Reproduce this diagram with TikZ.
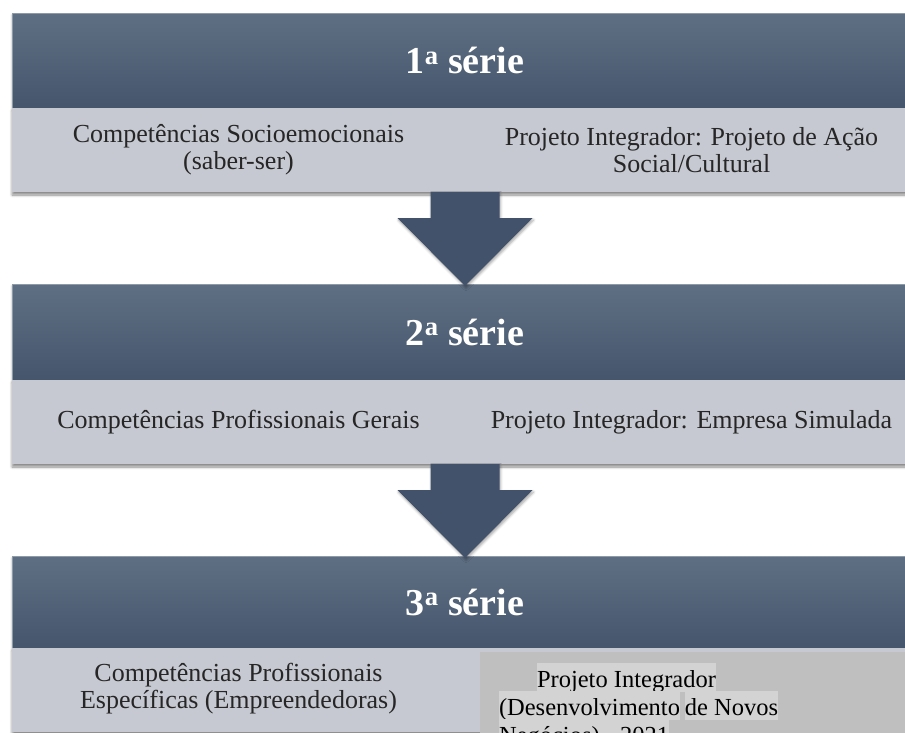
\documentclass[tikz,border=0pt]{standalone}
\usepackage{fontspec}
\setmainfont{Liberation Serif}
\usetikzlibrary{positioning,calc,shadows.blur}
\definecolor{hdtop}{HTML}{5F6F83}
\definecolor{hdbot}{HTML}{45556C}
\definecolor{rowgray}{HTML}{C6C9D1}
\definecolor{arrowblue}{HTML}{42526A}
\definecolor{boxgray}{HTML}{BFBFBF}
\definecolor{hlgray}{HTML}{D3D3D3}
\begin{document}
\begin{tikzpicture}[x=1pt,y=-1pt,
	header/.style={top color=hdtop,bottom color=hdbot,draw=hdtop!70!white,line width=0.6pt,
		minimum width=906pt,inner sep=0pt,outer sep=0pt,text=white,
		font=\bfseries\fontsize{38}{40}\selectfont,
		blur shadow={shadow xshift=0pt,shadow yshift=-2pt,shadow blur radius=2pt,shadow opacity=30}},
	row/.style={fill=rowgray,minimum width=906pt,minimum height=84pt,inner sep=0pt,outer sep=0pt,
		blur shadow={shadow xshift=0pt,shadow yshift=-3pt,shadow blur radius=2.5pt,shadow opacity=45}},
	celltext/.style={align=center,text=black!85,font=\fontsize{26}{27}\selectfont},
	blkarrow/.style={fill=arrowblue,
		blur shadow={shadow xshift=1pt,shadow yshift=-2pt,shadow blur radius=2.5pt,shadow opacity=35}},
	hl/.style={fill=hlgray,inner sep=0pt,outer sep=0pt,text height=24pt,text depth=4.5pt,
		font=\fontsize{24.5}{28}\selectfont}]
	\useasboundingbox (0,0) rectangle (905,732);
	\clip (0,0) rectangle (905,732);
	% series blocks
	\node[header,minimum height=95pt] (h1) at (465,60.5) {1\textsuperscript{a} série};
	\node[row,below=0pt of h1] (r1) {};
	\node[header,minimum height=96pt,below=92pt of r1] (h2) {2\textsuperscript{a} série};
	\node[row,below=0pt of h2] (r2) {};
	\node[header,minimum height=92pt,below=92pt of r2] (h3) {3\textsuperscript{a} série};
	\node[row,below=0pt of h3] (r3) {};
	% cell texts
	\node[celltext] (c1a) at ($(r1.west)!.5!(r1.center)$) {Competências Socioemocionais\\(saber-ser)};
	\node[celltext] (c1b) at ($(r1.center)!.5!(r1.east)$) {Projeto Integrador: Projeto de Ação\\Social/Cultural};
	\node[celltext] (c2a) at ($(r2.west)!.5!(r2.center)$) {Competências Profissionais Gerais};
	\node[celltext] (c2b) at ($(r2.center)!.5!(r2.east)$) {Projeto Integrador: Empresa Simulada};
	\node[celltext] (c3a) at ($(r3.west)!.5!(r3.center)+(0,-1)$) {Competências Profissionais\\Específicas (Empreendedoras)};
	% pasted box, bottom right
	\node[fill=boxgray,anchor=north west,minimum width=438pt,minimum height=90pt,inner sep=0pt] (p3)
		at ($(r3.north)+(15,4)$) {};
	\node[hl,anchor=base west] (pi1) at ($(p3.north west)+(57,35)$) {Projeto Integrador};
	\node[hl,anchor=base west] (pi2) at ($(p3.north west)+(19,63)$) {(Desenvolvimento};
	\node[hl,right=5pt of pi2] (pi3) {de Novos};
	\node[hl,anchor=base west] (pi4) at ($(p3.north west)+(19,91)$) {Negócios) - 2021};
	% arrows
	\foreach \a/\b in {r1/h2,r2/h3}
		\fill[blkarrow] ($(\a.south)+(-34.5,0)$) -- ++(0,26) -- ++(-33,0) -- ($(\b.north)+(0,2)$)
			-- ($(\a.south)+(67.5,26)$) -- ++(-33,0) -- ($(\a.south)+(34.5,0)$) -- cycle;
\end{tikzpicture}
\end{document}
